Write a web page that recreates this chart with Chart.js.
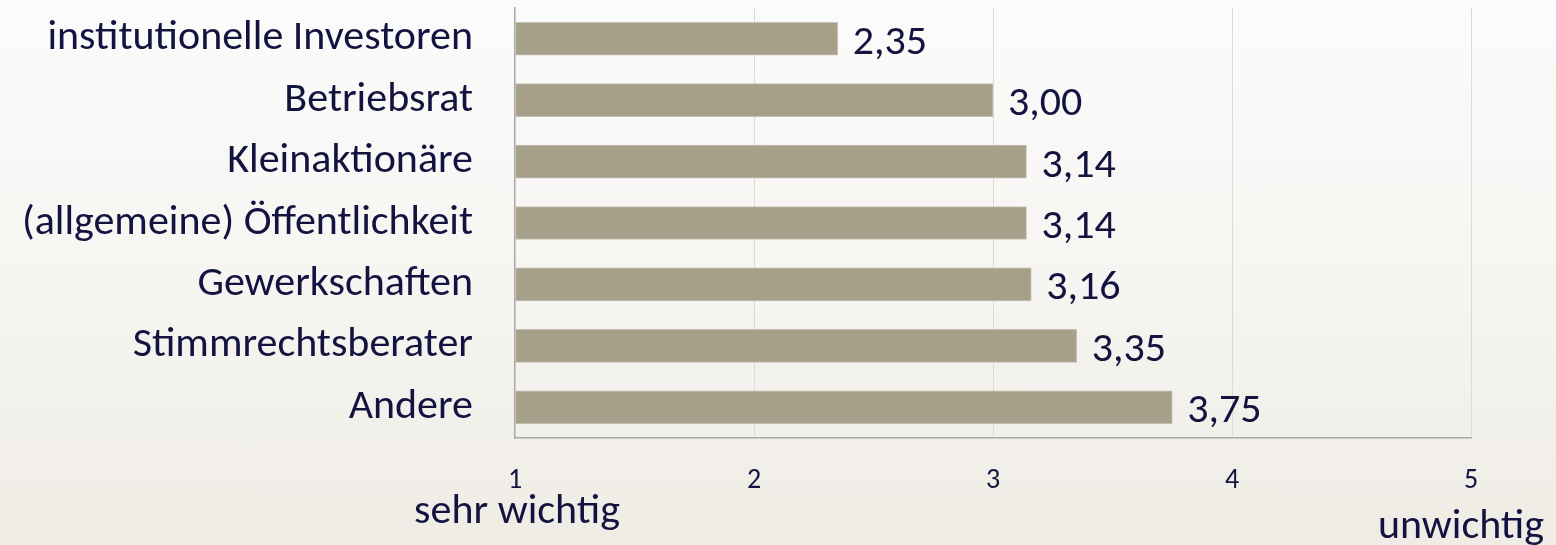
<!DOCTYPE html>
<html><head><meta charset="utf-8">
<script src="https://cdn.jsdelivr.net/npm/chart.js@4"></script>
<style>
html,body{margin:0;padding:0;width:1556px;height:545px;overflow:hidden;}
body{background:linear-gradient(to bottom,#FBFBFB 0%,#F7F6F3 45%,#EFECE5 100%);}
#wrap{width:1556px;height:545px;position:relative;}
</style></head><body>
<div id="wrap"><canvas id="c"></canvas></div>
<script>
const categories = ['institutionelle Investoren','Betriebsrat','Kleinaktionäre','(allgemeine) Öffentlichkeit','Gewerkschaften','Stimmrechtsberater','Andere'];
const values = [2.35, 3.00, 3.14, 3.14, 3.16, 3.35, 3.75];
const valueLabels = ['2,35','3,00','3,14','3,14','3,16','3,35','3,75'];
const tickValues = [1, 2, 3, 4, 5];
const axisMin = 1, axisMax = 5;
const lowLabel = 'sehr wichtig';
const highLabel = 'unwichtig';

const FONT = 'Carlito, Lato, "Open Sans", sans-serif';
const TEXT = '#12133F';

const extraText = {
  id: 'extraText',
  afterDatasetsDraw(chart) {
    const ctx = chart.ctx;
    const meta = chart.getDatasetMeta(0);
    ctx.save();
    ctx.fillStyle = TEXT;
    ctx.font = '42px ' + FONT;
    ctx.textAlign = 'left';
    ctx.textBaseline = 'alphabetic';
    meta.data.forEach((el, i) => {
      ctx.fillText(valueLabels[i], el.x + 15, el.y + 15);
    });
    const xs = chart.scales.x;
    ctx.textAlign = 'center';
    ctx.fillText(lowLabel, xs.getPixelForValue(axisMin) + 2, 523);
    ctx.textAlign = 'right';
    ctx.fillText(highLabel, chart.width - 12, 538);
    ctx.restore();
  }
};

new Chart(document.getElementById('c'), {
  type: 'bar',
  data: {
    labels: categories,
    datasets: [{
      data: values,
      base: axisMin,
      backgroundColor: '#A69F8A',
      borderColor: '#C4BFB0',
      borderWidth: 1,
      borderSkipped: false,
      barThickness: 33
    }]
  },
  options: {
    indexAxis: 'y',
    responsive: true,
    maintainAspectRatio: false,
    animation: false,
    layout: { padding: { top: 8, right: 85, bottom: 0, left: 0 } },
    plugins: { legend: { display: false }, tooltip: { enabled: false } },
    scales: {
      x: {
        type: 'linear',
        min: axisMin,
        max: axisMax,
        afterFit(scale) { scale.height = 107; scale.paddingLeft = 0; scale.paddingRight = 0; },
        afterBuildTicks(scale) { scale.ticks = tickValues.map(v => ({ value: v })); },
        ticks: { color: TEXT, font: { family: FONT, size: 28 }, padding: 26 },
        grid: {
          drawTicks: false,
          color: (c) => (c.tick && c.tick.value === axisMin) ? 'rgba(0,0,0,0)' : '#DCDAD6',
          lineWidth: 1
        },
        border: { display: true, color: '#A8A8A8', width: 1.5 }
      },
      y: {
        afterFit(scale) { scale.width = 515; scale.paddingTop = 0; scale.paddingBottom = 0; },
        ticks: { color: TEXT, font: { family: FONT, size: 42 }, padding: 42 },
        grid: { display: false, drawTicks: false },
        border: { display: true, color: '#A8A8A8', width: 1.5 }
      }
    }
  },
  plugins: [extraText]
});
</script>
</body></html>
